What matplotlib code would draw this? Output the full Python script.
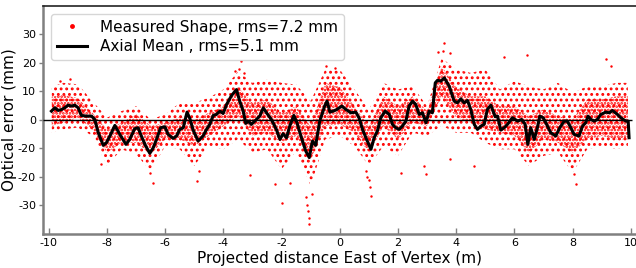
#!/usr/bin/env python3
"""Measured shape error vs projected distance, with the axial mean."""

import matplotlib
matplotlib.use("Agg")
import matplotlib.pyplot as plt

# Axial mean trace (m, mm)
mean_x = [-9.91, -9.79, -9.68, -9.56, -9.45, -9.34, -9.22, -9.11, -8.99, -8.88,
          -8.71, -8.53, -8.42, -8.30, -8.13, -8.02, -7.90, -7.73, -7.56, -7.35,
          -7.22, -7.05, -6.93, -6.82, -6.67, -6.53, -6.41, -6.30, -6.16, -6.01,
          -5.90, -5.73, -5.61, -5.50, -5.38, -5.25, -5.15, -5.04, -4.87, -4.70,
          -4.58, -4.47, -4.35, -4.24, -4.12, -4.01, -3.89, -3.72, -3.55, -3.44,
          -3.32, -3.23, -3.15, -3.04, -2.89, -2.75, -2.63, -2.52, -2.35, -2.18,
          -2.06, -1.95, -1.83, -1.72, -1.58, -1.47, -1.32, -1.17, -1.05, -0.94,
          -0.83, -0.69, -0.52, -0.44, -0.34, -0.14, 0.07, 0.21, 0.38, 0.55,
          0.66, 0.78, 0.92, 1.07, 1.18, 1.29, 1.41, 1.56, 1.70, 1.81,
          1.92, 2.04, 2.15, 2.27, 2.38, 2.50, 2.61, 2.73, 2.84, 2.96,
          3.07, 3.18, 3.28, 3.36, 3.47, 3.59, 3.76, 3.93, 4.04, 4.16,
          4.27, 4.39, 4.50, 4.62, 4.73, 4.85, 4.96, 5.07, 5.19, 5.34,
          5.42, 5.53, 5.65, 5.76, 5.93, 6.11, 6.25, 6.37, 6.46, 6.56,
          6.68, 6.79, 6.87, 6.99, 7.08, 7.25, 7.42, 7.56, 7.71, 7.82,
          7.94, 8.05, 8.22, 8.34, 8.45, 8.53, 8.63, 8.74, 8.85, 8.97,
          9.14, 9.26, 9.37, 9.54, 9.66, 9.74, 9.83, 9.91, 9.94]
mean_y = [3.09, 4.25, 3.32, 3.67, 4.25, 5.19, 4.84, 5.19, 4.25, 1.57,
          1.34, 1.34, 0.17, -4.49, -8.92, -7.98, -5.65, -1.92, -5.07, -8.57,
          -6.82, -3.09, -2.74, -5.65, -9.15, -11.71, -9.73, -6.82, -2.74, -2.39,
          -5.07, -6.47, -5.65, -3.32, -2.74, 2.74, 0.41, -3.56, -7.40, -5.65,
          -3.32, -1.57, 1.57, 1.92, 3.09, 2.27, 5.42, 8.57, 10.66, 6.59,
          3.09, -1.22, -0.41, -1.57, -0.06, 1.34, 4.25, 2.51, 0.17, -3.32,
          -6.82, -4.84, -6.24, -2.16, 1.57, -0.99, -6.24, -10.9, -13.2, -7.40,
          -8.92, -0.41, 4.84, 6.59, 2.74, 3.44, 4.84, 3.67, 2.51, 2.74,
          0.76, -3.32, -6.82, -10.31, -6.24, -3.90, 0.76, 3.09, 1.92, -1.57,
          -2.74, -3.32, -2.16, -0.41, 4.84, 6.59, 5.42, 1.92, 2.51, -0.99,
          3.09, 2.51, 13.0, 13.93, 13.58, 14.74, 11.83, 6.59, 6.0, 7.40,
          6.0, 6.82, 3.67, -1.57, -3.32, -2.16, -1.57, 3.67, 5.19, 1.11,
          1.34, -3.56, -2.74, -1.57, 0.76, -0.41, 0.17, -1.57, -8.57, -2.74,
          -6.82, -2.74, 1.34, 0.76, -0.99, -4.49, -5.65, -2.74, -0.41, -0.41,
          -2.74, -5.07, -5.65, -2.16, -0.99, 1.34, 0.17, -0.41, 0.17, 1.92,
          2.74, 2.51, 3.32, 1.92, 0.76, 0.17, -0.41, -0.41, -6.24]

# Spread of the measured points: sparse outer envelope and dense core
band_x = [-9.9, -9.5, -9.0, -8.5, -8.0, -7.5, -7.0, -6.5, -6.0, -5.5,
          -5.0, -4.5, -4.0, -3.5, -3.0, -2.5, -2.0, -1.5, -1.0, -0.5,
          0.0, 0.5, 1.0, 1.5, 2.0, 2.5, 3.0, 3.5, 4.0, 4.5,
          5.0, 5.5, 6.0, 6.5, 7.0, 7.5, 8.0, 8.5, 9.0, 9.5, 9.9]
outer_hi = [11.7, 13.0, 12.5, 6.6, 0.8, 3.1, 4.8, 0.2, 1.9, 6.0,
            6.0, 7.8, 10.7, 17.0, 13.0, 14.2, 13.0, 12.4, 6.6, 17.7,
            17.7, 10.7, 3.7, 13.0, 10.7, 11.8, 4.8, 21.7, 17.7, 16.5,
            17.7, 10.7, 13.6, 11.8, 10.7, 13.0, 9.5, 11.8, 11.8, 13.0, 13.0]
outer_lo = [-4.5, -3.3, -2.7, -5.6, -16.1, -10.3, -12.1, -17.9, -9.2, -10.3,
            -16.1, -9.2, -10.3, -6.8, -11.5, -10.3, -17.3, -10.9, -23.2, -6.8,
            -5.6, -9.2, -16.1, -9.2, -12.6, -4.5, -5.6, -2.0, -4.5, -4.5,
            -8.0, -10.3, -10.3, -16.1, -12.6, -11.5, -18.5, -10.3, -9.2, -10.3, -9.2]
inner_hi = [8.2, 8.8, 7.6, 2.5, -3.3, -1.0, 2.0, -2.0, -1.0, 1.0,
            0.0, 2.5, 4.8, 11.5, 6.0, 7.2, 2.5, 4.8, -2.2, 13.0,
            11.5, 4.8, -2.2, 8.3, 4.8, 8.3, 3.1, 18.8, 11.5, 8.3,
            8.3, 4.8, 4.8, 1.3, 3.7, 1.3, 0.2, 7.2, 7.2, 8.3, 8.3]
inner_lo = [-2.1, -1.0, 0.8, -3.3, -11.5, -8.0, -8.0, -12.0, -6.8, -6.8,
            -9.2, -5.6, -2.2, 1.3, -5.6, -4.5, -8.0, -5.6, -13.8, -2.2,
            -1.6, -4.5, -11.5, -2.2, -6.8, -1.0, -2.2, 8.4, 0.8, -1.0,
            -3.3, -4.5, -5.6, -11.5, -6.8, -8.0, -11.5, -6.8, -5.6, -6.8, -6.8]

# Isolated measured points outside the bands
out_x = [-9.28, -9.6, -8.2, -6.53, -6.41, -4.9, -4.85, -3.6, -3.45, -3.38,
         -3.3, -3.09, -2.22, -1.99, -1.72, -1.15, -1.13, -1.10, -1.07, -1.05,
         -0.95, -0.46, -0.17, 0.9, 0.95, 1.0, 1.05, 1.07, 2.1, 2.96,
         2.9, 3.36, 3.53, 3.59, 3.77, 3.80, 4.6, 5.63, 6.44, 8.1,
         8.05, 9.15, 9.32]
out_y = [14.2, 13.5, -15.5, -18.5, -22.0, -21.4, -17.9, 17.1, 17.7, 20.6,
         16.5, -19.3, -22.6, -29.0, -22.0, -27.2, -30.0, -32.0, -34.5, -36.5,
         -26.0, 18.8, 18.2, -18.0, -20.0, -21.0, -23.5, -26.6, -18.7, -19.0,
         -16.0, 24.0, 24.1, 27.0, 23.5, -13.8, -16.1, 22.0, 22.7, -22.5,
         -19.0, 21.2, 18.8]

x_ticks = [-10, -8, -6, -4, -2, 0, 2, 4, 6, 8, 10]
y_ticks = [-30, -20, -10, 0, 10, 20, 30]
y_tick_labels = ["-30", "-20", "-20", "0", "10", "20", "30"]

RED = "#ff0000"
SPINE_GREY = "#808080"


def main() -> None:
    fig = plt.figure(figsize=(6.36, 2.68), dpi=100)
    ax = fig.add_axes([0.0676, 0.127, 0.9334, 0.851])

    # measured shape: sparse outer cloud, dense core, isolated points
    plt.rcParams["hatch.linewidth"] = 1.3
    ax.fill_between(band_x, outer_lo, outer_hi, facecolor="none",
                    edgecolor=RED, linewidth=0, hatch="...", zorder=1)
    ax.fill_between(band_x, inner_lo, inner_hi, facecolor="none",
                    edgecolor=RED, linewidth=0, hatch=".....", zorder=1)
    ax.plot(out_x, out_y, ".", color=RED, ms=3.5, mew=0,
            label="Measured Shape, rms=7.2 mm", zorder=2)

    ax.hlines(0, -10.2, 10.03, color="black", linewidth=1.0, zorder=3)
    ax.plot(mean_x, mean_y, color="black", linewidth=2.2,
            label="Axial Mean , rms=5.1 mm", zorder=4)

    ax.set_xlim(-10.2, 10.2)
    ax.set_ylim(-40, 40)
    ax.set_xticks(x_ticks)
    ax.set_xticklabels([str(t) for t in x_ticks])
    ax.set_yticks(y_ticks)
    ax.set_yticklabels(y_tick_labels)
    ax.tick_params(axis="x", direction="in", length=4, width=1,
                   color=SPINE_GREY, labelsize=8, pad=3)
    ax.tick_params(axis="y", direction="out", length=3, width=1,
                   color=SPINE_GREY, labelsize=8, pad=2)

    for side in ("left", "bottom"):
        ax.spines[side].set_color(SPINE_GREY)
        ax.spines[side].set_linewidth(1.8)
    ax.spines["top"].set_color("#222222")
    ax.spines["top"].set_linewidth(1.2)
    ax.spines["right"].set_visible(False)

    ax.set_xlabel("Projected distance East of Vertex (m)", fontsize=11, labelpad=2)
    ax.set_ylabel("Optical error (mm)", fontsize=11)
    ax.yaxis.set_label_coords(-0.043, 0.5)

    ax.legend(loc="upper left", fontsize=11, markerscale=2.0,
              handlelength=2.0, borderpad=0.4, labelspacing=0.3)

    fig.savefig("out.png", dpi=100)
    plt.close(fig)


if __name__ == "__main__":
    main()
